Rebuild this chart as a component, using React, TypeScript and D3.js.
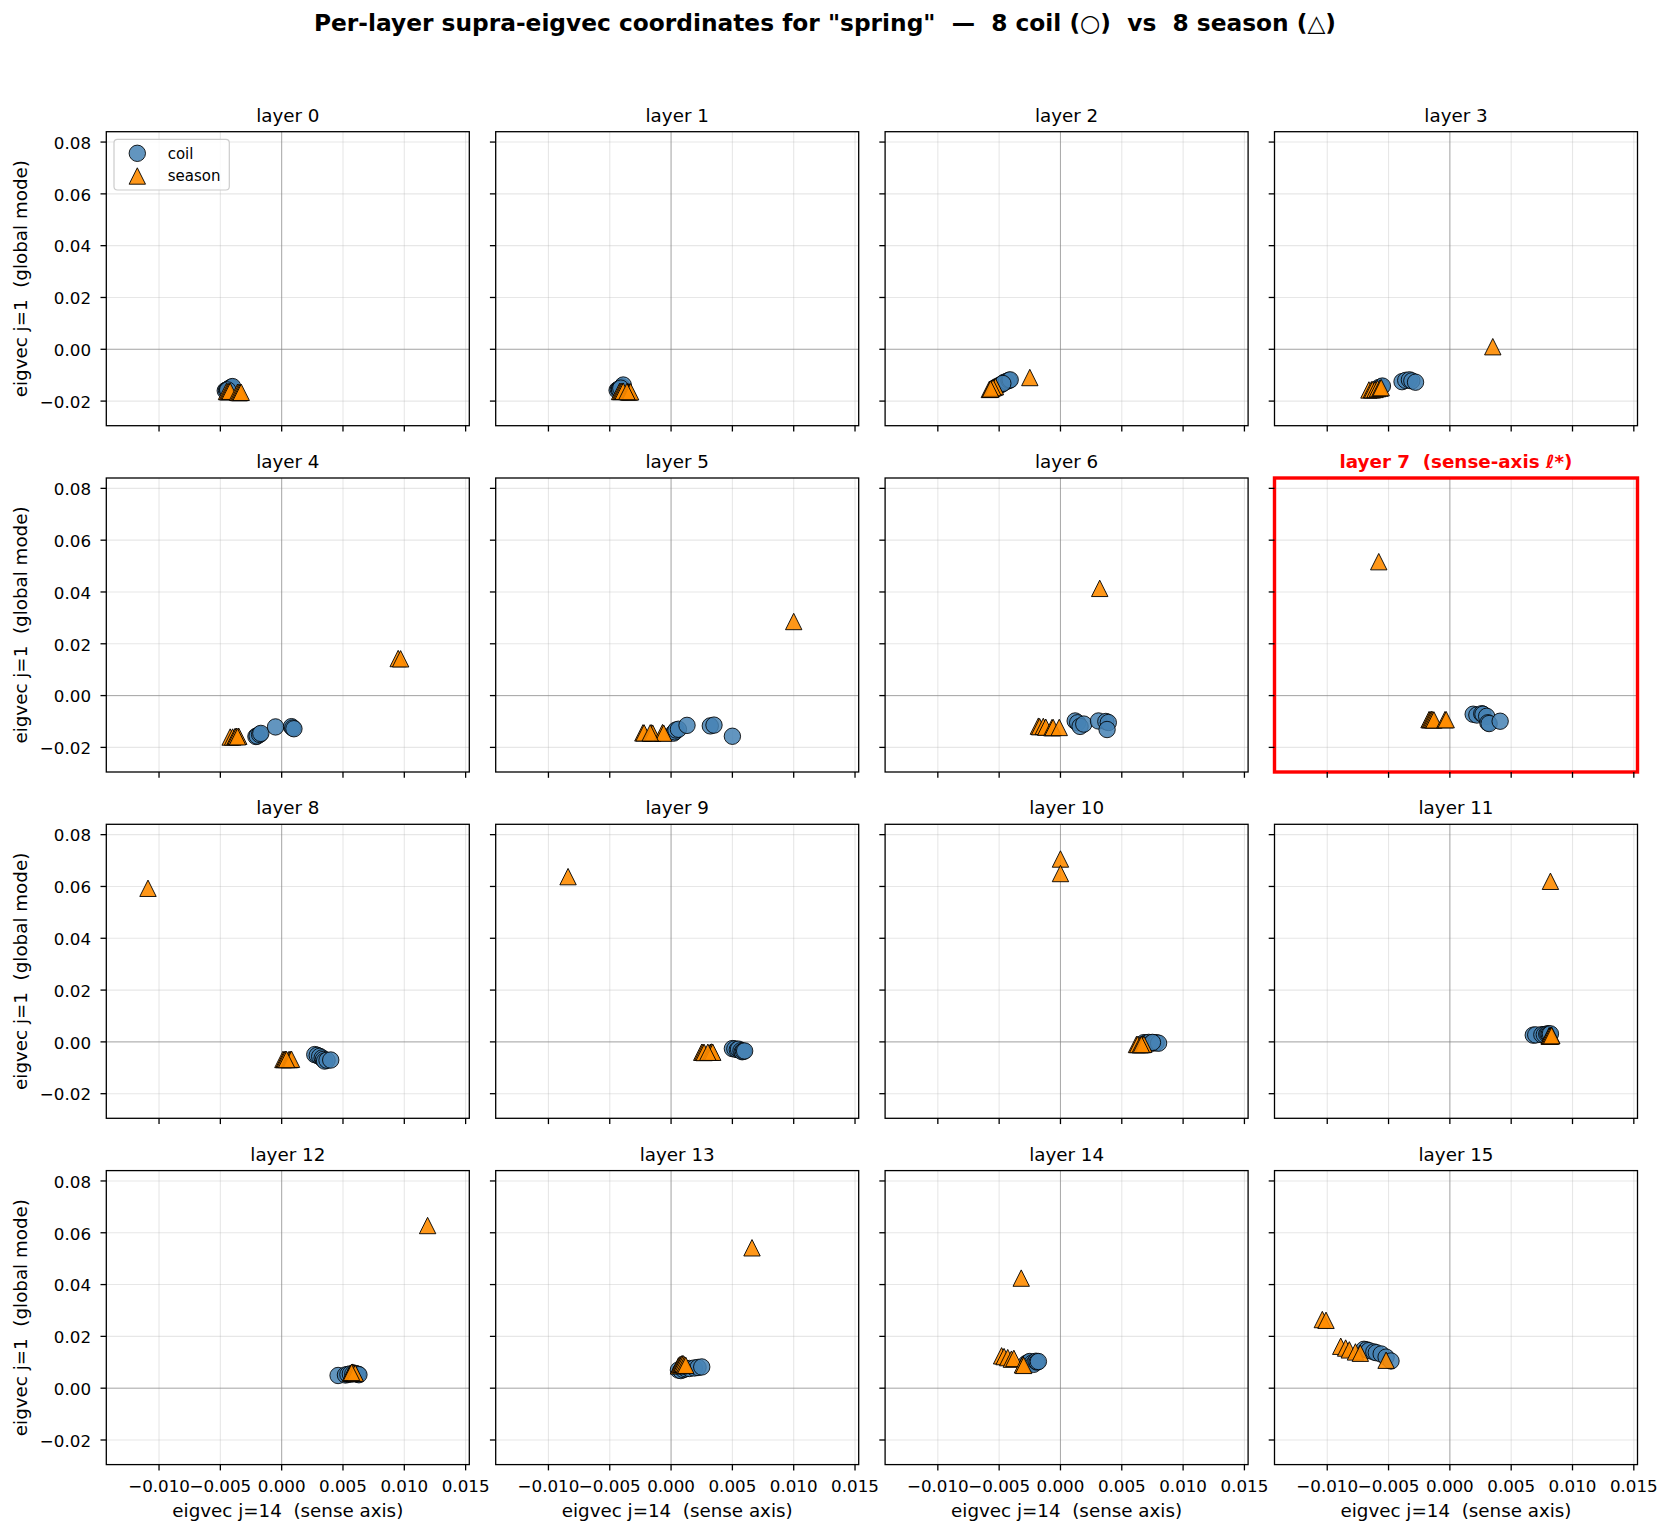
import React from "react";
import * as d3 from "d3";

// Per-layer coordinates on eigvec j=14 (x, sense axis) and j=1 (y, global mode)
const LAYER_IDS = d3.range(16);
const HIGHLIGHT_LAYER = 7;

const coilX: number[][] = [
  [-0.0046, -0.0045, -0.0044, -0.0043, -0.0042, -0.0041, -0.0040, -0.0044],
  [-0.0044, -0.0043, -0.0042, -0.0041, -0.0040, -0.0039, -0.0042, -0.0041],
  [-0.0052, -0.0050, -0.0048, -0.0046, -0.0044, -0.0042, -0.0041, -0.0047],
  [-0.0058, -0.0056, -0.0055, -0.0039, -0.0036, -0.0033, -0.0031, -0.0028],
  [-0.0021, -0.0020, -0.0018, -0.0017, -0.0005, 0.0008, 0.0009, 0.0010],
  [0.0002, 0.0003, 0.0004, 0.0006, 0.0013, 0.0032, 0.0035, 0.0050],
  [0.0012, 0.0014, 0.0016, 0.0019, 0.0031, 0.0037, 0.0039, 0.0038],
  [0.0019, 0.0022, 0.0026, 0.0027, 0.0030, 0.0031, 0.0032, 0.0041],
  [0.0027, 0.0029, 0.0031, 0.0033, 0.0034, 0.0035, 0.0037, 0.0040],
  [0.0050, 0.0052, 0.0054, 0.0055, 0.0057, 0.0058, 0.0059, 0.0060],
  [0.0068, 0.0070, 0.0072, 0.0074, 0.0076, 0.0078, 0.0080, 0.0075],
  [0.0068, 0.0070, 0.0075, 0.0077, 0.0079, 0.0080, 0.0081, 0.0082],
  [0.0046, 0.0052, 0.0054, 0.0056, 0.0058, 0.0060, 0.0062, 0.0063],
  [0.0006, 0.0008, 0.0010, 0.0012, 0.0015, 0.0019, 0.0022, 0.0025],
  [-0.0028, -0.0026, -0.0025, -0.0023, -0.0022, -0.0020, -0.0019, -0.0018],
  [-0.0070, -0.0068, -0.0066, -0.0062, -0.0060, -0.0056, -0.0052, -0.0048],
];

const coilY: number[][] = [
  [-0.0160, -0.0158, -0.0155, -0.0152, -0.0150, -0.0146, -0.0144, -0.0157],
  [-0.0158, -0.0155, -0.0152, -0.0149, -0.0145, -0.0138, -0.0156, -0.0150],
  [-0.0145, -0.0140, -0.0135, -0.0128, -0.0124, -0.0120, -0.0118, -0.0132],
  [-0.0148, -0.0145, -0.0142, -0.0125, -0.0120, -0.0118, -0.0122, -0.0127],
  [-0.0158, -0.0156, -0.0150, -0.0146, -0.0121, -0.0120, -0.0125, -0.0128],
  [-0.0145, -0.0140, -0.0133, -0.0130, -0.0115, -0.0117, -0.0114, -0.0157],
  [-0.0098, -0.0105, -0.0119, -0.0110, -0.0098, -0.0100, -0.0104, -0.0131],
  [-0.0072, -0.0075, -0.0070, -0.0072, -0.0080, -0.0105, -0.0108, -0.0099],
  [-0.0049, -0.0052, -0.0056, -0.0062, -0.0068, -0.0074, -0.0071, -0.0070],
  [-0.0026, -0.0027, -0.0030, -0.0028, -0.0034, -0.0038, -0.0036, -0.0035],
  [-0.0003, -0.0004, -0.0002, -0.0005, -0.0004, -0.0003, -0.0005, -0.0002],
  [0.0026, 0.0027, 0.0028, 0.0028, 0.0030, 0.0031, 0.0030, 0.0031],
  [0.0049, 0.0051, 0.0053, 0.0055, 0.0055, 0.0057, 0.0054, 0.0052],
  [0.0070, 0.0068, 0.0072, 0.0075, 0.0076, 0.0078, 0.0080, 0.0082],
  [0.0095, 0.0100, 0.0103, 0.0097, 0.0092, 0.0104, 0.0101, 0.0103],
  [0.0150, 0.0148, 0.0145, 0.0140, 0.0137, 0.0132, 0.0120, 0.0105],
];

const seasonX: number[][] = [
  [-0.0045, -0.0044, -0.0043, -0.0042, -0.0036, -0.0035, -0.0034, -0.0033],
  [-0.0042, -0.0041, -0.0040, -0.0039, -0.0035, -0.0034, -0.0033, -0.0036],
  [-0.0058, -0.0057, -0.0056, -0.0054, -0.0053, -0.0055, -0.0057, -0.0025],
  [-0.0066, -0.0064, -0.0063, -0.0061, -0.0059, -0.0057, -0.0056, 0.0035],
  [-0.0042, -0.0040, -0.0038, -0.0037, -0.0035, -0.0036, 0.0095, 0.0097],
  [-0.0023, -0.0022, -0.0016, -0.0015, -0.0007, -0.0006, -0.0017, 0.0100],
  [-0.0018, -0.0017, -0.0014, -0.0012, -0.0007, -0.0006, -0.0001, 0.0032],
  [-0.0017, -0.0016, -0.0015, -0.0014, -0.0013, -0.0004, -0.0003, -0.0058],
  [0.0001, 0.0002, 0.0003, 0.0006, 0.0007, 0.0008, 0.0004, -0.0109],
  [0.0025, 0.0026, 0.0027, 0.0032, 0.0033, 0.0034, 0.0030, -0.0084],
  [0.0062, 0.0063, 0.0065, 0.0067, 0.0068, 0.0066, 0.0000, 0.0000],
  [0.0081, 0.0082, 0.0082, 0.0083, 0.0081, 0.0082, 0.0083, 0.0082],
  [0.0056, 0.0057, 0.0058, 0.0058, 0.0059, 0.0060, 0.0057, 0.0119],
  [0.0006, 0.0007, 0.0008, 0.0009, 0.0010, 0.0011, 0.0012, 0.0066],
  [-0.0048, -0.0046, -0.0043, -0.0040, -0.0038, -0.0031, -0.0030, -0.0032],
  [-0.0104, -0.0101, -0.0089, -0.0085, -0.0082, -0.0077, -0.0073, -0.0052],
];

const seasonY: number[][] = [
  [-0.0163, -0.0164, -0.0163, -0.0162, -0.0166, -0.0167, -0.0167, -0.0166],
  [-0.0163, -0.0163, -0.0162, -0.0162, -0.0164, -0.0165, -0.0164, -0.0163],
  [-0.0155, -0.0154, -0.0150, -0.0146, -0.0144, -0.0148, -0.0153, -0.0109],
  [-0.0157, -0.0156, -0.0156, -0.0155, -0.0152, -0.0150, -0.0148, 0.0010],
  [-0.0160, -0.0160, -0.0158, -0.0157, -0.0157, -0.0159, 0.0143, 0.0142],
  [-0.0144, -0.0144, -0.0144, -0.0145, -0.0143, -0.0145, -0.0144, 0.0286],
  [-0.0118, -0.0120, -0.0119, -0.0122, -0.0124, -0.0123, -0.0123, 0.0414],
  [-0.0093, -0.0093, -0.0092, -0.0093, -0.0094, -0.0093, -0.0093, 0.0517],
  [-0.0068, -0.0068, -0.0067, -0.0068, -0.0068, -0.0067, -0.0068, 0.0593],
  [-0.0040, -0.0040, -0.0041, -0.0040, -0.0039, -0.0040, -0.0040, 0.0638],
  [-0.0010, -0.0010, -0.0011, -0.0010, -0.0009, -0.0010, 0.0706, 0.0650],
  [0.0024, 0.0023, 0.0024, 0.0025, 0.0022, 0.0023, 0.0024, 0.0620],
  [0.0058, 0.0060, 0.0059, 0.0062, 0.0060, 0.0058, 0.0061, 0.0628],
  [0.0086, 0.0090, 0.0092, 0.0095, 0.0094, 0.0090, 0.0088, 0.0542],
  [0.0125, 0.0122, 0.0118, 0.0112, 0.0115, 0.0090, 0.0088, 0.0425],
  [0.0265, 0.0262, 0.0162, 0.0155, 0.0148, 0.0140, 0.0135, 0.0108],
];

const X_TICKS = [-0.01, -0.005, 0, 0.005, 0.01, 0.015];
const Y_TICKS = [-0.02, 0, 0.02, 0.04, 0.06, 0.08];
const X_DOMAIN: [number, number] = [-0.0143, 0.0153];
const Y_DOMAIN: [number, number] = [-0.0295, 0.0840];

const TITLE =
  'Per-layer supra-eigvec coordinates for "spring"  \u2014  8 coil (\u25CB)  vs  8 season (\u25B3)';
const X_LABEL = "eigvec j=14  (sense axis)";
const Y_LABEL = "eigvec j=1  (global mode)";

const FONT = "'DejaVu Sans', sans-serif";
const COIL_COLOR = "steelblue";
const SEASON_COLOR = "darkorange";
const PRE = { whiteSpace: "pre" as const };

// figure geometry
const FIG_W = 1672;
const FIG_H = 1534;
const COL0 = 106.3;
const COL_STEP = 389.4;
const ROW0 = 131.7;
const ROW_STEP = 346.3;
const PW = 363;
const PH = 294;
const MARK_R = 8.2;

const fmtX = d3.format(".3f");
const fmtY = d3.format(".2f");

function triPath(cx: number, cy: number, h: number) {
  return `M${cx},${cy - h}L${cx + h},${cy + h}L${cx - h},${cy + h}Z`;
}

function Panel({ layer }: { layer: number }) {
  const col = layer % 4;
  const row = Math.floor(layer / 4);
  const left = COL0 + col * COL_STEP;
  const top = ROW0 + row * ROW_STEP;
  const x = d3.scaleLinear().domain(X_DOMAIN).range([0, PW]);
  const y = d3.scaleLinear().domain(Y_DOMAIN).range([PH, 0]);
  const isHi = layer === HIGHLIGHT_LAYER;
  const showY = col === 0;
  const showX = row === 3;

  return (
    <g transform={`translate(${left},${top})`}>
      {/* grid */}
      {X_TICKS.map((t) => (
        <line key={`gx${t}`} x1={x(t)} x2={x(t)} y1={0} y2={PH} stroke="#b0b0b0" strokeOpacity={0.3} strokeWidth={1.1} />
      ))}
      {Y_TICKS.map((t) => (
        <line key={`gy${t}`} x1={0} x2={PW} y1={y(t)} y2={y(t)} stroke="#b0b0b0" strokeOpacity={0.3} strokeWidth={1.1} />
      ))}
      {/* zero reference lines */}
      <line x1={x(0)} x2={x(0)} y1={0} y2={PH} stroke="#808080" strokeOpacity={0.6} strokeWidth={1} />
      <line x1={0} x2={PW} y1={y(0)} y2={y(0)} stroke="#808080" strokeOpacity={0.6} strokeWidth={1} />

      {/* coil points */}
      {coilX[layer].map((v, i) => (
        <circle
          key={`c${i}`}
          cx={x(v)}
          cy={y(coilY[layer][i])}
          r={MARK_R}
          fill={COIL_COLOR}
          fillOpacity={0.85}
          stroke="#000"
          strokeOpacity={0.85}
          strokeWidth={1}
        />
      ))}
      {/* season points */}
      {seasonX[layer].map((v, i) => (
        <path
          key={`s${i}`}
          d={triPath(x(v), y(seasonY[layer][i]), MARK_R)}
          fill={SEASON_COLOR}
          fillOpacity={0.9}
          stroke="#000"
          strokeOpacity={0.9}
          strokeWidth={1}
        />
      ))}

      {/* frame */}
      <rect
        x={0}
        y={0}
        width={PW}
        height={PH}
        fill="none"
        stroke={isHi ? "red" : "#000"}
        strokeWidth={isHi ? 3.4 : 1.3}
      />

      {/* ticks */}
      {X_TICKS.map((t) => (
        <line key={`tx${t}`} x1={x(t)} x2={x(t)} y1={PH} y2={PH + 5.8} stroke="#000" strokeWidth={1.3} />
      ))}
      {Y_TICKS.map((t) => (
        <line key={`ty${t}`} x1={-5.8} x2={0} y1={y(t)} y2={y(t)} stroke="#000" strokeWidth={1.3} />
      ))}
      {showX &&
        X_TICKS.map((t) => (
          <text key={`lx${t}`} x={x(t)} y={PH + 27.6} textAnchor="middle" fontSize={16.7} fontFamily={FONT} fill="#000">
            {fmtX(t)}
          </text>
        ))}
      {showY &&
        Y_TICKS.map((t) => (
          <text key={`ly${t}`} x={-15.3} y={y(t) + 6.8} textAnchor="end" fontSize={16.7} fontFamily={FONT} fill="#000">
            {fmtY(t)}
          </text>
        ))}
      {showX && (
        <text x={PW / 2} y={PH + 52} textAnchor="middle" fontSize={18.3} fontFamily={FONT} fill="#000" style={PRE}>
          {X_LABEL}
        </text>
      )}
      {showY && (
        <text
          transform={`translate(${27 - left},${PH / 2}) rotate(-90)`}
          textAnchor="middle"
          fontSize={18.3}
          fontFamily={FONT}
          fill="#000"
          style={PRE}
        >
          {Y_LABEL}
        </text>
      )}

      {/* title */}
      <text
        x={PW / 2}
        y={-10}
        textAnchor="middle"
        fontSize={18.3}
        fontFamily={FONT}
        fontWeight={isHi ? "bold" : "normal"}
        fill={isHi ? "red" : "#000"}
        style={PRE}
      >
        {isHi ? "layer 7  (sense-axis \u2113*)" : `layer ${layer}`}
      </text>

      {layer === 0 && <Legend />}
    </g>
  );
}

function Legend() {
  const bx = 7.7;
  const by = 7.6;
  const mx = 31;
  const rows = [
    { label: "coil", kind: "c", cy: 21.6 },
    { label: "season", kind: "s", cy: 44.3 },
  ];
  return (
    <g>
      <rect x={bx} y={by} width={115.3} height={50.7} rx={3.5} fill="#fff" fillOpacity={0.8} stroke="#cccccc" strokeWidth={1.2} />
      {rows.map((r) => (
        <g key={r.label}>
          {r.kind === "c" ? (
            <circle cx={mx} cy={r.cy} r={MARK_R} fill={COIL_COLOR} fillOpacity={0.85} stroke="#000" strokeOpacity={0.85} strokeWidth={1} />
          ) : (
            <path d={triPath(mx, r.cy, MARK_R)} fill={SEASON_COLOR} fillOpacity={0.9} stroke="#000" strokeOpacity={0.9} strokeWidth={1} />
          )}
          <text x={61.4} y={r.cy + 5.3} fontSize={15} fontFamily={FONT} fill="#000">
            {r.label}
          </text>
        </g>
      ))}
    </g>
  );
}

export default function App() {
  return (
    <svg
      width={FIG_W}
      height={FIG_H}
      viewBox={`0 0 ${FIG_W} ${FIG_H}`}
      style={{ position: "absolute", left: 0, top: 0, background: "#fff" }}
    >
      <rect x={0} y={0} width={FIG_W} height={FIG_H} fill="#fff" />
      <text
        x={825}
        y={31}
        textAnchor="middle"
        fontSize={23.3}
        fontWeight="bold"
        fontFamily={FONT}
        fill="#000"
        style={PRE}
      >
        {TITLE}
      </text>
      {LAYER_IDS.map((l) => (
        <Panel key={l} layer={l} />
      ))}
    </svg>
  );
}
